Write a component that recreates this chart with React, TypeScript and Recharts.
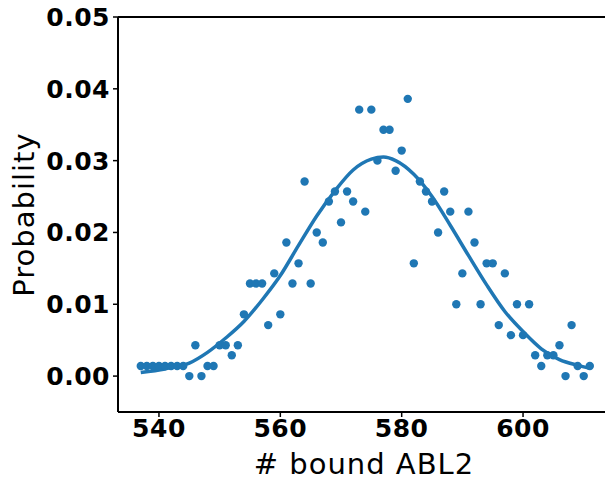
import React from 'react';
import {
  ComposedChart,
  Scatter,
  Line,
  XAxis,
  YAxis,
  ReferenceLine,
} from 'recharts';

// Observed probabilities per number of bound ABL2
const boundCounts = [
  537, 538, 539, 540, 541, 542, 543, 544, 545, 546,
  547, 548, 549, 550, 551, 552, 553, 554, 555, 556,
  557, 558, 559, 560, 561, 562, 563, 564, 565, 566,
  567, 568, 569, 570, 571, 572, 573, 574, 575, 576,
  577, 578, 579, 580, 581, 582, 583, 584, 585, 586,
  587, 588, 589, 590, 591, 592, 593, 594, 595, 596,
  597, 598, 599, 600, 601, 602, 603, 604, 605, 606,
  607, 608, 609, 610, 611,
];
const probabilities = [
  0.0014, 0.0014, 0.0014, 0.0014, 0.0014, 0.0014, 0.0014, 0.0014, 0.0, 0.0043,
  0.0, 0.0014, 0.0014, 0.0043, 0.0043, 0.0029, 0.0043, 0.0086, 0.0129, 0.0129,
  0.0129, 0.0071, 0.0143, 0.0086, 0.0186, 0.0129, 0.0157, 0.0271, 0.0129, 0.02,
  0.0186, 0.0243, 0.0257, 0.0214, 0.0257, 0.0243, 0.0371, 0.0229, 0.0371, 0.03,
  0.0343, 0.0343, 0.0286, 0.0314, 0.0386, 0.0157, 0.0271, 0.0257, 0.0243, 0.02,
  0.0257, 0.0229, 0.01, 0.0143, 0.0229, 0.0186, 0.01, 0.0157, 0.0157, 0.0071,
  0.0143, 0.0057, 0.01, 0.0057, 0.01, 0.0029, 0.0014, 0.0029, 0.0029, 0.0043,
  0.0, 0.0071, 0.0014, 0.0, 0.0014,
];

// Fitted curve
const fitX = [
  537, 541, 545, 548, 551, 554, 557, 560, 563, 566, 569, 572, 575,
  577, 579, 582, 585, 588, 591, 594, 597, 600, 603, 606, 609, 611,
];
const fitY = [
  0.0005, 0.001, 0.0018, 0.0033, 0.0053, 0.0076, 0.0106, 0.014, 0.0182,
  0.0223, 0.0258, 0.0287, 0.0302, 0.0305, 0.03, 0.0281, 0.025, 0.021,
  0.0168, 0.0127, 0.009, 0.0062, 0.0038, 0.0023, 0.0015, 0.0011,
];

const xTicks = [540, 560, 580, 600];
const yTicks = [0, 0.01, 0.02, 0.03, 0.04, 0.05];

const scatterData = boundCounts.map((x, i) => ({ x, y: probabilities[i] }));
const fitData = fitX.map((x, i) => ({ x, y: fitY[i] }));

const BLUE = '#1f77b4';

const tickStyle = {
  fill: '#000',
  fontSize: 25,
  fontWeight: 'bold',
  fontFamily: 'DejaVu Sans',
  letterSpacing: 0.5,
};

const Dot = (props: any) => {
  const { cx, cy } = props;
  if (cx == null || cy == null) return null;
  return <circle cx={cx} cy={cy} r={4.2} fill={BLUE} />;
};

export default function App() {
  return (
    <div
      style={{
        position: 'absolute',
        left: 0,
        top: 0,
        width: 605,
        height: 480,
        overflow: 'hidden',
        background: '#fff',
      }}
    >
      <ComposedChart
        width={620}
        height={480}
        margin={{ top: 17, right: 12, bottom: 0, left: 0 }}
      >
        <XAxis
          type="number"
          dataKey="x"
          domain={[533.25, 614]}
          ticks={xTicks}
          allowDataOverflow
          height={68}
          tickSize={5}
          tickMargin={2}
          axisLine={{ stroke: '#000', strokeWidth: 2 }}
          tickLine={{ stroke: '#000', strokeWidth: 1.5 }}
          tick={tickStyle}
          label={{
            value: '# bound ABL2',
            position: 'insideBottom',
            offset: 6,
            dx: 1,
            fill: '#000',
            fontSize: 29,
            fontFamily: 'DejaVu Sans',
            letterSpacing: 1,
          }}
        />
        <YAxis
          type="number"
          dataKey="y"
          domain={[-0.005, 0.05]}
          ticks={yTicks}
          allowDataOverflow
          width={118}
          tickSize={5}
          tickMargin={3}
          tickFormatter={(v: number) => v.toFixed(2)}
          axisLine={{ stroke: '#000', strokeWidth: 2 }}
          tickLine={{ stroke: '#000', strokeWidth: 1.5 }}
          tick={tickStyle}
          label={{
            value: 'Probability',
            angle: -90,
            position: 'insideLeft',
            offset: 24,
            fill: '#000',
            fontSize: 29,
            fontFamily: 'DejaVu Sans',
            letterSpacing: 1,
            style: { textAnchor: 'middle' },
          }}
        />
        <ReferenceLine y={0.05} stroke="#000" strokeWidth={2} />
        <ReferenceLine x={614} stroke="#000" strokeWidth={2} />
        <Scatter
          data={scatterData}
          dataKey="y"
          fill={BLUE}
          shape={<Dot />}
          isAnimationActive={false}
        />
        <Line
          data={fitData}
          dataKey="y"
          type="monotone"
          stroke={BLUE}
          strokeWidth={3.5}
          dot={false}
          activeDot={false}
          isAnimationActive={false}
        />
      </ComposedChart>
    </div>
  );
}
